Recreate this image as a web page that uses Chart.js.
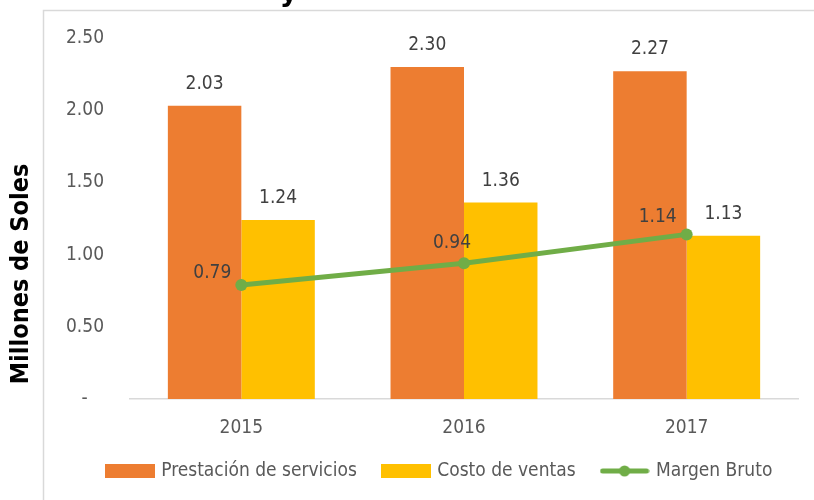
<!DOCTYPE html>
<html>
<head>
<meta charset="utf-8">
<script src="https://cdn.jsdelivr.net/npm/chart.js@4/dist/chart.umd.min.js"></script>
<style>
  html, body { margin: 0; padding: 0; background: #ffffff; }
  #wrap { position: relative; width: 814px; height: 500px; }
</style>
</head>
<body>
<div id="wrap"><canvas id="c" width="814" height="500"></canvas></div>
<script>
const categories = ['2015', '2016', '2017'];
const prestacionServicios = [2.03, 2.30, 2.27];
const costoVentas = [1.24, 1.36, 1.13];
const margenBruto = [0.79, 0.94, 1.14];
const yTickValues = [0, 0.5, 1.0, 1.5, 2.0, 2.5];
const seriesNames = ['Prestación de servicios', 'Costo de ventas', 'Margen Bruto'];
const yAxisTitle = 'Millones de Soles';
const titleFragment = 'y';

const FONT = "'DejaVu Sans Condensed', 'DejaVu Sans', sans-serif";
const ORANGE = '#ED7D31', YELLOW = '#FFC000', GREEN = '#70AD47';

function boxImage(color) {
  const c = document.createElement('canvas');
  c.width = 50; c.height = 14;
  const g = c.getContext('2d');
  g.fillStyle = color; g.fillRect(0, 0, 50, 14);
  return c;
}
function lineImage(color) {
  const c = document.createElement('canvas');
  c.width = 50; c.height = 14;
  const g = c.getContext('2d');
  g.strokeStyle = color; g.lineWidth = 5; g.lineCap = 'round';
  g.beginPath(); g.moveTo(3, 7); g.lineTo(47, 7); g.stroke();
  g.fillStyle = color; g.beginPath(); g.arc(25, 7, 5.5, 0, Math.PI * 2); g.fill();
  return c;
}
const legendImages = [boxImage(ORANGE), boxImage(YELLOW), lineImage(GREEN)];

const decorPlugin = {
  id: 'decor',
  afterLayout(chart) {
    // legend is centred inside the bordered frame (which starts at x≈43), not the whole canvas
    if (chart.legend) { chart.legend.left += 41; chart.legend.right += 41; }
  },
  beforeDraw(chart) {
    const ctx = chart.ctx;
    ctx.save();
    ctx.strokeStyle = '#d9d9d9';
    ctx.lineWidth = 1.5;
    ctx.beginPath();
    ctx.moveTo(43.5, 500); ctx.lineTo(43.5, 10.5); ctx.lineTo(814, 10.5);
    ctx.stroke();
    // cut-off title fragment
    ctx.fillStyle = '#000000';
    ctx.font = "bold 28px 'DejaVu Sans', sans-serif";
    ctx.textAlign = 'center';
    ctx.textBaseline = 'alphabetic';
    ctx.fillText(titleFragment, 289, 1);
    // y axis title
    ctx.translate(21, 274);
    ctx.rotate(-Math.PI / 2);
    ctx.font = "bold 25px " + FONT;
    ctx.textBaseline = 'middle';
    ctx.fillText(yAxisTitle, 0, 0);
    ctx.restore();
  }
};

const labelOffsets = [[-29, -12], [-12, -20], [-29, -17]];
const valueLabelPlugin = {
  id: 'valueLabels',
  afterDatasetsDraw(chart) {
    const ctx = chart.ctx;
    ctx.save();
    ctx.fillStyle = '#404040';
    ctx.font = "19px " + FONT;
    ctx.textAlign = 'center';
    ctx.textBaseline = 'middle';
    chart.data.datasets.forEach((ds, di) => {
      const meta = chart.getDatasetMeta(di);
      meta.data.forEach((el, i) => {
        const txt = ds.data[i].toFixed(2);
        if (ds.type === 'line') {
          const o = labelOffsets[i];
          ctx.fillText(txt, el.x + o[0], el.y + o[1]);
        } else {
          ctx.fillText(txt, el.x, el.y - 22);
        }
      });
    });
    ctx.restore();
  }
};

new Chart(document.getElementById('c'), {
  data: {
    labels: categories,
    datasets: [
      { type: 'bar', label: seriesNames[0], data: prestacionServicios, backgroundColor: ORANGE, order: 1,
        categoryPercentage: 0.66, barPercentage: 1.0 },
      { type: 'bar', label: seriesNames[1], data: costoVentas, backgroundColor: YELLOW, order: 1,
        categoryPercentage: 0.66, barPercentage: 1.0 },
      { type: 'line', label: seriesNames[2], data: margenBruto, borderColor: GREEN, backgroundColor: GREEN,
        borderWidth: 5, pointRadius: 6, pointHoverRadius: 6, pointBackgroundColor: GREEN, pointBorderWidth: 0,
        tension: 0, order: 0 }
    ]
  },
  options: {
    responsive: false,
    animation: false,
    devicePixelRatio: 1,
    layout: { padding: { left: 0, right: 16, top: 38, bottom: 9.5 } },
    plugins: {
      tooltip: { enabled: false },
      legend: {
        display: true,
        position: 'bottom',
        labels: {
          usePointStyle: true,
          pointStyleWidth: 44,
          boxHeight: 14,
          padding: 27,
          color: '#595959',
          font: { size: 19, family: FONT },
          generateLabels(chart) {
            return chart.data.datasets.map((ds, i) => ({
              text: ds.label,
              pointStyle: legendImages[i],
              fillStyle: ds.backgroundColor,
              strokeStyle: ds.backgroundColor,
              lineWidth: 0,
              hidden: false,
              datasetIndex: i,
              fontColor: '#595959'
            }));
          }
        }
      }
    },
    scales: {
      x: {
        grid: { display: false, drawTicks: false },
        border: { display: true, color: '#d9d9d9', width: 1.5 },
        ticks: { color: '#595959', font: { size: 19, family: FONT }, padding: 18 },
        afterFit(scale) { scale.height = 35.5; }
      },
      y: {
        min: 0, max: 2.5,
        grid: { display: false, drawTicks: false },
        border: { display: false },
        afterBuildTicks(scale) { scale.ticks = yTickValues.map(v => ({ value: v })); },
        ticks: {
          color: '#595959', font: { size: 19, family: FONT }, padding: 26,
          callback(v) { return v === 0 ? '-   ' : v.toFixed(2); }
        },
        afterFit(scale) { scale.width = 130; }
      }
    }
  },
  plugins: [decorPlugin, valueLabelPlugin]
});
</script>
</body>
</html>
